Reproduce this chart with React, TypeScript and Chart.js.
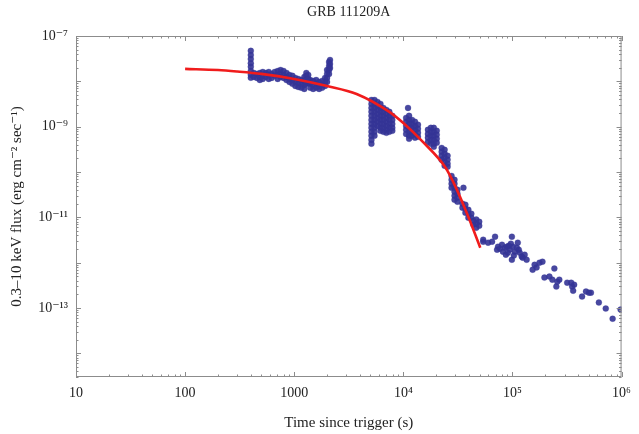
import { useEffect, useRef } from 'react';
import { Chart, registerables } from 'chart.js';

Chart.register(...registerables);

const FONT = "'Liberation Serif', 'DejaVu Serif', serif";
const TEXT = '#222222';
const FRAME = '#8c8c8c';

const chartTitle = 'GRB 111209A';
const xTitle = 'Time since trigger (s)';
const yTitle = '0.3–10 keV flux (erg cm⁻² sec⁻¹)';

const xTickValues = [10, 100, 1000, 1e4, 1e5, 1e6];
const xTickLabels = ['10', '100', '1000', '10⁴', '10⁵', '10⁶'];
const yTickValues = [1e-13, 1e-11, 1e-9, 1e-7];
const yTickLabels = ['10⁻¹³', '10⁻¹¹', '10⁻⁹', '10⁻⁷'];
const xRange = [10, 1e6];
const yRange = [3e-15, 1e-7];

// Fitted model curve (red)
const modelTimes = [100, 200, 300, 500, 1000, 2000, 3730, 7440, 10000, 15100, 24400, 30100, 39400, 50700];
const modelFlux = [1.88e-8, 1.78e-8, 1.65e-8, 1.46e-8, 1.13e-8, 7.9e-9, 5.27e-9, 2.12e-9, 1.2e-9, 4.6e-10, 1.24e-10, 4.7e-11, 1.03e-11, 2.14e-12];

// Observed flux, grouped per time column: [time, [fluxes...]]
const earlyColumns: [number, number[]][] = [
  [400, [4.7e-8, 3.8e-8, 3.1e-8, 2.5e-8, 2.1e-8, 1.7e-8, 1.4e-8, 1.2e-8]],
  [427, [1.53e-8, 1.25e-8]],
  [455, [1.46e-8, 1.19e-8]],
  [484, [1.53e-8, 1.25e-8, 1.07e-8]],
  [515, [1.61e-8, 1.32e-8, 1.13e-8]],
  [549, [1.53e-8, 1.25e-8]],
  [584, [1.61e-8, 1.38e-8, 1.13e-8]],
  [621, [1.46e-8, 1.19e-8]],
  [662, [1.61e-8, 1.32e-8]],
  [705, [1.69e-8, 1.38e-8, 1.13e-8]],
  [750, [1.78e-8, 1.46e-8, 1.25e-8]],
  [798, [1.69e-8, 1.38e-8, 1.19e-8]],
  [850, [1.53e-8, 1.25e-8, 1.07e-8]],
  [905, [1.38e-8, 1.13e-8, 9.7e-9]],
  [963, [1.32e-8, 1.07e-8, 8.8e-9]],
  [1025, [1.19e-8, 9.7e-9, 7.9e-9]],
  [1091, [1.13e-8, 9.2e-9, 7.5e-9]],
  [1162, [1.07e-8, 8.8e-9, 7.2e-9]],
  [1237, [1.25e-8, 1.02e-8, 8.3e-9, 6.8e-9]],
  [1290, [1.53e-8, 1.32e-8, 1.07e-8, 8.8e-9]],
  [1345, [1.38e-8, 1.13e-8, 9.2e-9]],
  [1402, [1.07e-8, 8.8e-9, 7.2e-9]],
  [1493, [1.02e-8, 8.3e-9, 6.8e-9]],
  [1589, [1.07e-8, 8.8e-9, 7.2e-9]],
  [1692, [9.7e-9, 7.9e-9, 6.8e-9]],
  [1801, [1.02e-8, 8.3e-9, 7.2e-9]],
  [1917, [1.19e-8, 9.7e-9, 7.9e-9]],
  [2000, [1.78e-8, 1.46e-8, 1.19e-8, 9.7e-9]],
  [2085, [2.67e-8, 2.18e-8, 1.78e-8, 1.46e-8]],
  [2129, [2.96e-8, 2.42e-8, 1.97e-8]],
];

const midColumns: [number, number[]][] = [
  [5100, [3.89e-9, 3.18e-9, 2.59e-9, 2.12e-9, 1.73e-9, 1.41e-9, 1.15e-9, 9.4e-10, 7.7e-10, 6.3e-10, 5.1e-10, 4.2e-10]],
  [5440, [3.89e-9, 3.18e-9, 2.59e-9, 2.12e-9, 1.73e-9, 1.41e-9, 1.15e-9, 9.4e-10, 7.7e-10, 6.3e-10]],
  [5790, [3.52e-9, 2.87e-9, 2.34e-9, 1.91e-9, 1.56e-9, 1.28e-9, 1.04e-9]],
  [6170, [3.18e-9, 2.59e-9, 2.12e-9, 1.73e-9, 1.41e-9, 1.15e-9, 9.4e-10, 8.1e-10]],
  [6560, [2.59e-9, 2.12e-9, 1.73e-9, 1.41e-9, 1.15e-9, 9.4e-10, 7.7e-10]],
  [6990, [2.34e-9, 1.91e-9, 1.56e-9, 1.28e-9, 1.04e-9, 8.5e-10, 7.3e-10]],
  [7440, [2.12e-9, 1.73e-9, 1.41e-9, 1.15e-9, 9.4e-10, 7.7e-10]],
  [7920, [1.73e-9, 1.41e-9, 1.15e-9, 9.4e-10, 8.1e-10]],
  [11040, [2.59e-9]],
  [10600, [1.56e-9, 1.28e-9, 1.04e-9, 8.5e-10, 6.9e-10]],
  [11290, [1.73e-9, 1.41e-9, 1.15e-9, 9.4e-10, 7.7e-10, 6.3e-10, 5.4e-10]],
  [12020, [1.41e-9, 1.15e-9, 9.4e-10, 7.7e-10, 6.3e-10]],
  [12790, [1.28e-9, 1.04e-9, 8.5e-10, 6.9e-10, 5.7e-10]],
  [13620, [1.1e-9, 8.95e-10, 7.3e-10, 5.96e-10]],
  [16790, [8.5e-10, 6.9e-10, 5.7e-10, 4.6e-10]],
  [17870, [9.4e-10, 7.7e-10, 6.3e-10, 5.1e-10, 4.2e-10]],
  [19020, [9.4e-10, 7.7e-10, 6.3e-10, 5.1e-10, 4.2e-10, 3.6e-10]],
  [20240, [8.1e-10, 6.6e-10, 5.4e-10, 4.4e-10]],
  [22440, [3.4e-10, 2.79e-10, 2.28e-10, 1.86e-10]],
  [23900, [3.08e-10, 2.52e-10, 2.06e-10, 1.68e-10, 1.37e-10]],
  [25440, [2.28e-10, 1.86e-10, 1.52e-10, 1.3e-10]],
  [27660, [8.2e-11, 6.7e-11, 5.5e-11, 4.49e-11]],
  [29440, [6.7e-11, 5.5e-11, 4.49e-11, 3.66e-11, 2.99e-11, 2.44e-11]],
  [31330, [4.06e-11, 3.31e-11, 2.7e-11, 2.21e-11]],
  [35560, [4.49e-11]],
  [34800, [2.0e-11, 1.63e-11]],
  [37050, [1.9e-11, 1.55e-11, 1.26e-11]],
  [39440, [1.47e-11, 1.2e-11, 9.8e-12]],
  [41990, [1.2e-11, 9.8e-12]],
  [43770, [8.4e-12, 6.9e-12]],
  [46590, [8.9e-12, 7.2e-12, 5.9e-12]],
  [49600, [8.0e-12, 6.5e-12]],
];

const lateTimes = [
  53950, 53950, 59840, 65060, 69290, 72240, 73760, 76870, 80180, 81840, 85360, 87060, 88940, 90770, 92680,
  94620, 96790, 98780, 98780, 100900, 103000, 105200, 109600, 111900, 114300, 116700, 121600, 124200, 129400,
  134900, 153100, 159600, 166300, 177000, 188400, 196400, 218100, 232200, 242100, 252500, 257800, 268700,
  317500, 345300, 352500, 367600, 360000, 434400, 472300, 502500, 523800, 619200, 716500, 828300, 980000,
];
const lateFlux = [
  3.21e-12, 2.9e-12, 2.76e-12, 2.9e-12, 3.74e-12, 1.93e-12, 2.25e-12, 2.03e-12, 2.49e-12, 1.75e-12, 2.14e-12, 1.5e-12, 2.25e-12, 1.66e-12, 2.37e-12,
  1.93e-12, 2.62e-12, 3.74e-12, 1.16e-12, 2.25e-12, 1.43e-12, 1.75e-12, 2.14e-12, 2.76e-12, 1.93e-12, 1.66e-12, 1.36e-12, 1.29e-12, 1.5e-12,
  1.16e-12, 7.0e-13, 9.0e-13, 7.8e-13, 1.0e-12, 1.05e-12, 4.68e-13, 4.92e-13, 4.22e-13, 7.4e-13, 2.96e-13, 3.81e-13, 4.22e-13,
  3.62e-13, 3.62e-13, 2.96e-13, 3.27e-13, 2.4e-13, 1.78e-13, 2.3e-13, 2.18e-13, 2.18e-13, 1.32e-13, 9.7e-14, 5.8e-14, 9.2e-14,
];

const framePlugin = {
  id: 'frameTicks',
  afterDatasetsDraw(chart: any) {
    const { ctx, chartArea: a, scales } = chart;
    const xs = scales.x;
    const ys = scales.y;
    ctx.save();
    ctx.strokeStyle = FRAME;
    ctx.lineWidth = 1;
    ctx.strokeRect(a.left + 0.5, a.top + 0.5, a.right - a.left - 1, a.bottom - a.top - 1);
    const major = 5;
    const minor = 2.5;
    ctx.beginPath();
    for (let e = 1; e <= 6; e++) {
      for (let m = 1; m <= 9; m++) {
        const v = m * Math.pow(10, e);
        if (v < xRange[0] || v > xRange[1]) continue;
        const px = Math.round(xs.getPixelForValue(v)) + 0.5;
        const len = m === 1 ? major : minor;
        ctx.moveTo(px, a.bottom);
        ctx.lineTo(px, a.bottom - len);
        ctx.moveTo(px, a.top);
        ctx.lineTo(px, a.top + len);
      }
    }
    for (let e = -15; e <= -7; e++) {
      for (let m = 1; m <= 9; m++) {
        const v = m * Math.pow(10, e);
        if (v < yRange[0] || v > yRange[1] * 1.0001) continue;
        const py = Math.round(ys.getPixelForValue(v)) + 0.5;
        const len = m === 1 ? major : minor;
        ctx.moveTo(a.left, py);
        ctx.lineTo(a.left + len, py);
        ctx.moveTo(a.right, py);
        ctx.lineTo(a.right - len, py);
      }
    }
    ctx.stroke();
    ctx.fillStyle = TEXT;
    ctx.font = `14px ${FONT}`;
    ctx.textAlign = 'center';
    ctx.textBaseline = 'middle';
    ctx.fillText(chartTitle, (a.left + a.right) / 2, 12);
    ctx.restore();
  },
};

export default function App() {
  const ref = useRef<HTMLCanvasElement>(null);
  useEffect(() => {
    const points = [
      ...earlyColumns.flatMap(([t, fs]) => fs.map((f) => ({ x: t, y: f }))),
      ...midColumns.flatMap(([t, fs]) => fs.map((f) => ({ x: t, y: f }))),
      ...lateTimes.map((t, i) => ({ x: t, y: lateFlux[i] })),
    ];
    const model = modelTimes.map((t, i) => ({ x: t, y: modelFlux[i] }));
    const chart = new Chart(ref.current!, {
      type: 'scatter',
      data: {
        datasets: [
          {
            label: 'model',
            data: model,
            showLine: true,
            borderColor: '#f01c1c',
            borderWidth: 2.6,
            pointRadius: 0,
            cubicInterpolationMode: 'monotone',
            order: 0,
          } as any,
          {
            label: 'data',
            data: points,
            pointRadius: 3,
            pointBackgroundColor: 'rgba(52,52,150,0.9)',
            pointBorderColor: 'rgba(52,52,150,0.5)',
            pointBorderWidth: 0.5,
            order: 1,
          },
        ],
      },
      options: {
        animation: false,
        responsive: false,
        events: [],
        layout: { padding: { top: 36, right: 11, left: 0, bottom: 0 } },
        plugins: { legend: { display: false }, tooltip: { enabled: false }, title: { display: false } },
        scales: {
          x: {
            type: 'logarithmic',
            min: xRange[0],
            max: xRange[1],
            afterBuildTicks: (s: any) => {
              s.ticks = xTickValues.map((v) => ({ value: v }));
            },
            afterFit: (s: any) => {
              s.height = 57;
            },
            grid: { display: false, drawTicks: false },
            border: { display: false },
            ticks: {
              autoSkip: false,
              maxRotation: 0,
              padding: 8,
              color: TEXT,
              font: { family: FONT, size: 14 },
              callback: (v: any) => xTickLabels[xTickValues.indexOf(Number(v))] ?? '',
            },
            title: {
              display: true,
              text: xTitle,
              color: TEXT,
              font: { family: FONT, size: 15 },
              padding: { top: 1, bottom: 2 },
            },
          },
          y: {
            type: 'logarithmic',
            min: yRange[0],
            max: yRange[1],
            afterBuildTicks: (s: any) => {
              s.ticks = yTickValues.map((v) => ({ value: v }));
            },
            afterFit: (s: any) => {
              s.width = 76;
            },
            grid: { display: false, drawTicks: false },
            border: { display: false },
            ticks: {
              autoSkip: false,
              padding: 8,
              color: TEXT,
              font: { family: FONT, size: 14 },
              callback: (v: any) => {
                const idx = yTickValues.findIndex((t) => Math.abs(Math.log10(t) - Math.log10(Number(v))) < 0.01);
                return idx >= 0 ? yTickLabels[idx] : '';
              },
            },
            title: {
              display: true,
              text: yTitle,
              color: TEXT,
              font: { family: FONT, size: 15 },
              padding: { top: 8, bottom: 0 },
            },
          },
        },
      },
      plugins: [framePlugin],
    });
    return () => chart.destroy();
  }, []);
  return (
    <div style={{ position: 'absolute', left: 0, top: 0, width: 639, height: 434, background: '#fff' }}>
      <canvas ref={ref} width={639} height={434} style={{ width: '639px', height: '434px' }} />
    </div>
  );
}
